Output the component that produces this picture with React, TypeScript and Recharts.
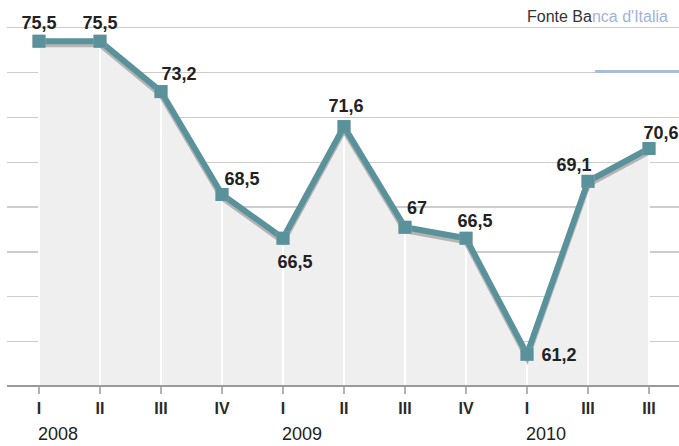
import React from 'react';
import {
  ComposedChart,
  Area,
  Line,
  XAxis,
  YAxis,
  LabelList,
  ReferenceLine,
} from 'recharts';

// quarters 2008 I .. 2010 (labels as printed in the source)
const QUARTERS = ['2008-I', '2008-II', '2008-III', '2008-IV', '2009-I', '2009-II', '2009-III', '2009-IV', '2010-I', '2010-III', '2010-III-b'];
const TICK_LABELS = ['I', 'II', 'III', 'IV', 'I', 'II', 'III', 'IV', 'I', 'III', 'III'];
const YEAR_LABELS = ['2008', '', '', '', '2009', '', '', '', '2010', '', ''];
const VALUES = [75.5, 75.5, 73.2, 68.5, 66.5, 71.6, 67, 66.5, 61.2, 69.1, 70.6];

// where each value label sits relative to its point
const LABEL_OFFSETS: [number, number][] = [
  [0, -18], [0, -18], [18, -18], [20, -15], [12, 24], [2, -21],
  [12, -19], [9, -17], [32, 1], [-14, -16], [12, -15],
];

const Y_MIN = 59.75;
const Y_MAX = 76.15;
const GRID_STEPS = 8;

const data = QUARTERS.map((q, i) => ({ q, value: VALUES[i] }));

const W = 679;
const H = 446;
const MARGIN = { top: 27, right: 0, bottom: 0, left: 7 };
const XAXIS_H = 60;
const PLOT_H = H - MARGIN.top - MARGIN.bottom - XAXIS_H;

const TEAL = '#5a929c';
const SHADOW = '#b4b4b4';
const GRID = '#cccccc';
const FONT = '"Liberation Sans", Arial, Helvetica, sans-serif';

const fmt = (v: number) => String(v).replace('.', ',');

const makeSquare = (color: string) => (props: any) => {
  const { cx, cy, index } = props;
  if (cx == null || cy == null) return null;
  return <rect key={index} x={cx - 6.5} y={cy - 6.5} width={13} height={13} fill={color} />;
};
const TealDot = makeSquare(TEAL);
const ShadowDot = makeSquare(SHADOW);

const renderLabel = (props: any) => {
  const { x, y, value, index } = props;
  const [dx, dy] = LABEL_OFFSETS[index] || [0, -18];
  return (
    <text
      x={x + dx}
      y={y + dy}
      textAnchor="middle"
      dominantBaseline="central"
      fontFamily={FONT}
      fontWeight="bold"
      fontSize={18}
      fill="#222"
    >
      {fmt(value)}
    </text>
  );
};

const QuarterTick = (props: any) => {
  const { x, y, index } = props;
  const year = YEAR_LABELS[index];
  return (
    <g>
      <text x={x} y={y + 12} textAnchor="middle" dominantBaseline="central" fontFamily={FONT} fontWeight="bold" fontSize={16} fill="#2a2a2a">
        {TICK_LABELS[index]}
      </text>
      {year && (
        <text x={x - 1} y={y + 38} textAnchor="start" dominantBaseline="central" fontFamily={FONT} fontSize={18} fill="#222">
          {year}
        </text>
      )}
    </g>
  );
};

// horizontal rules sit behind the svg so the opaque area hides them
const step = PLOT_H / GRID_STEPS;
const gridBackground = {
  backgroundImage: `repeating-linear-gradient(to bottom, ${GRID} 0px, ${GRID} 1.2px, transparent 1.2px, transparent ${step}px)`,
  backgroundPosition: `${MARGIN.left}px ${MARGIN.top - 0.5}px`,
  backgroundSize: `${W - MARGIN.left - MARGIN.right}px ${PLOT_H}px`,
  backgroundRepeat: 'no-repeat',
};

export default function App() {
  return (
    <div style={{ position: 'absolute', left: 0, top: 0, width: W, height: H, background: '#fff' }}>
      <div style={{ position: 'absolute', left: 0, top: 0, width: W, height: H, ...gridBackground }} />
      <style>{`
        .shadow-line { transform: translate(0px, 3px); }
        .recharts-area-area { fill-opacity: 1; }
      `}</style>
      <div style={{ position: 'absolute', left: 0, top: 0 }}>
        <ComposedChart width={W} height={H} data={data} margin={MARGIN}>
          <XAxis
            dataKey="q"
            scale="point"
            padding={{ left: 32, right: 30 }}
            height={XAXIS_H}
            interval={0}
            axisLine={{ stroke: '#9a9a9a', strokeWidth: 2 }}
            tickLine={{ stroke: '#9a9a9a', strokeWidth: 1.5 }}
            tickSize={8}
            tick={<QuarterTick />}
          />
          <YAxis hide domain={[Y_MIN, Y_MAX]} type="number" allowDataOverflow />
          <Area
            dataKey="value"
            type="linear"
            fill="#efefef"
            fillOpacity={1}
            stroke="none"
            isAnimationActive={false}
            activeDot={false}
          />
          {data.map((d) => (
            <ReferenceLine
              key={d.q}
              segment={[{ x: d.q, y: Y_MIN }, { x: d.q, y: d.value }]}
              stroke="#ffffff"
              strokeWidth={2}
            />
          ))}
          <Line
            dataKey="value"
            type="linear"
            className="shadow-line"
            stroke={SHADOW}
            strokeWidth={6}
            dot={<ShadowDot />}
            activeDot={false}
            isAnimationActive={false}
          />
          <Line
            dataKey="value"
            type="linear"
            stroke={TEAL}
            strokeWidth={6}
            dot={<TealDot />}
            activeDot={false}
            isAnimationActive={false}
          />
          <Line dataKey="value" stroke="none" dot={false} activeDot={false} isAnimationActive={false}>
            <LabelList dataKey="value" content={renderLabel} />
          </Line>
        </ComposedChart>
      </div>
      <div
        style={{
          position: 'absolute',
          left: 527,
          top: 8,
          fontFamily: FONT,
          fontSize: 16,
          color: '#333',
          whiteSpace: 'nowrap',
        }}
      >
        Fonte Ba<span style={{ color: '#9fb3d6' }}>nca d'Italia</span>
      </div>
      <div style={{ position: 'absolute', left: 595, top: 70, width: 84, height: 3, background: '#a8bde0' }} />
    </div>
  );
}
